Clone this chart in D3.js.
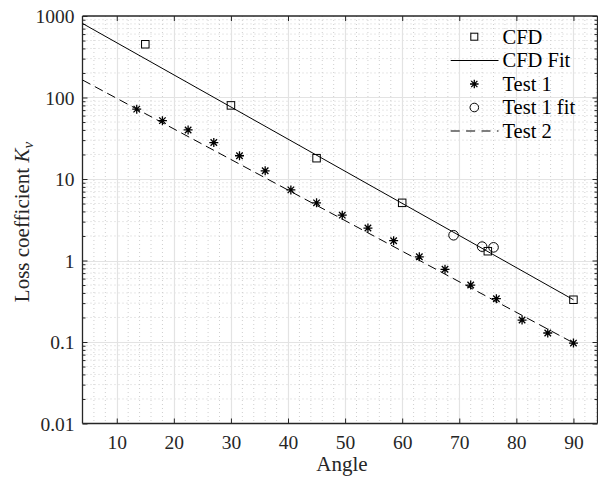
<!DOCTYPE html>
<html>
<head>
<meta charset="utf-8">
<script src="https://cdn.jsdelivr.net/npm/d3@7"></script>
<style>
  html, body { margin: 0; padding: 0; background: #fff; }
  svg { display: block; }
  text { font-family: "Liberation Serif", "DejaVu Serif", serif; }
</style>
</head>
<body>
<svg id="chart" width="598" height="480"></svg>
<script>
// ---- Data ----
const cfdAngle = [15, 30, 45, 60, 75, 90];
const cfdK = [450, 80, 18, 5.1, 1.3, 0.33];

const cfdFitAngle = [4, 90];
const cfdFitK = [810, 0.33];

const test1Angle = [13.5, 18, 22.5, 27, 31.5, 36, 40.5, 45, 49.5, 54, 58.5, 63, 67.5, 72, 76.5, 81, 85.5, 90];
const test1K = [72, 52, 40, 28, 19.3, 12.6, 7.35, 5.1, 3.6, 2.5, 1.75, 1.11, 0.78, 0.5, 0.34, 0.186, 0.129, 0.097];

const test1FitAngle = [69, 74, 76];
const test1FitK = [2.04, 1.48, 1.45];

const test2Angle = [4, 90];
const test2K = [164, 0.0975];

const xTicks = [10, 20, 30, 40, 50, 60, 70, 80, 90];
const yTicks = [0.01, 0.1, 1, 10, 100, 1000];
const yTickLabels = ["0.01", "0.1", "1", "10", "100", "1000"];
const legendLabels = ["CFD", "CFD Fit", "Test 1", "Test 1 fit", "Test 2"];

// ---- Layout ----
const L = 82.5, R = 597.5, T = 16, B = 423.5;
const svg = d3.select("#chart");
const x = d3.scaleLinear().domain([4, 94.3]).range([L, R + 0.5]);
const y = d3.scaleLog().domain([0.01, 1000]).range([B, T]);

const axisColor = "#262626";

// ---- Grid ----
const grid = svg.append("g");
// minor horizontal
const minorY = [];
for (let e = -2; e < 3; e++) for (let m = 2; m <= 9; m++) minorY.push(m * Math.pow(10, e));
grid.selectAll(".myg").data(minorY).join("line")
  .attr("x1", L).attr("x2", R).attr("y1", d => y(d)).attr("y2", d => y(d))
  .attr("stroke", "#cfcfcf").attr("stroke-width", 1).attr("stroke-dasharray", "1,3");
// minor vertical
const minorX = d3.range(4, 95, 2).filter(v => v % 10 !== 0);
grid.selectAll(".mxg").data(minorX).join("line")
  .attr("x1", d => x(d)).attr("x2", d => x(d)).attr("y1", T).attr("y2", B)
  .attr("stroke", "#cfcfcf").attr("stroke-width", 1).attr("stroke-dasharray", "1,3");
// major
grid.selectAll(".Myg").data(yTicks.slice(1, -1)).join("line")
  .attr("x1", L).attr("x2", R).attr("y1", d => Math.round(y(d)) + 0.5).attr("y2", d => Math.round(y(d)) + 0.5)
  .attr("stroke", "#e3e3e3").attr("stroke-width", 1.2);
grid.selectAll(".Mxg").data(xTicks).join("line")
  .attr("x1", d => Math.round(x(d)) + 0.5).attr("x2", d => Math.round(x(d)) + 0.5).attr("y1", T).attr("y2", B)
  .attr("stroke", "#e3e3e3").attr("stroke-width", 1.2);

// ---- Axes ----
const xAxisB = d3.axisBottom(x).tickValues(xTicks).tickSize(-5).tickPadding(12).tickFormat(d3.format("d"));
const gx = svg.append("g").attr("transform", `translate(0,${B})`).call(xAxisB);
gx.select(".domain").attr("d", `M${L},0H${R}`);
const xAxisT = d3.axisTop(x).tickValues(xTicks).tickSize(-5).tickFormat("");
const gxt = svg.append("g").attr("transform", `translate(0,${T})`).call(xAxisT);
gxt.select(".domain").attr("d", `M${L},0H${R}`);

const yAxisL = d3.axisLeft(y).tickValues(yTicks).tickSize(-5).tickPadding(8)
  .tickFormat((d, i) => yTickLabels[i]);
const gy = svg.append("g").attr("transform", `translate(${L},0)`).call(yAxisL);
gy.select(".domain").attr("d", `M0,${T}V${B}`);
const yAxisR = d3.axisRight(y).tickValues(yTicks).tickSize(-5).tickFormat("");
const gyr = svg.append("g").attr("transform", `translate(${R},0)`).call(yAxisR);
gyr.select(".domain").attr("d", `M0,${T}V${B}`);

// minor y ticks
const yMinorAxis = d3.axisLeft(y).tickValues(minorY).tickSize(-3).tickFormat("");
const gym = svg.append("g").attr("transform", `translate(${L},0)`).call(yMinorAxis);
gym.select(".domain").remove();
const yMinorAxisR = d3.axisRight(y).tickValues(minorY).tickSize(-3).tickFormat("");
const gymr = svg.append("g").attr("transform", `translate(${R},0)`).call(yMinorAxisR);
gymr.select(".domain").remove();

svg.selectAll(".domain").attr("stroke", axisColor).attr("stroke-width", 1.3);
svg.selectAll(".tick line").attr("stroke", axisColor).attr("stroke-width", 1);
svg.selectAll(".tick text").attr("fill", axisColor).attr("font-size", 19.5)
  .attr("font-family", "Liberation Serif, serif");
gy.selectAll(".tick text").attr("dy", "0.34em");

// ---- Labels ----
svg.append("text").attr("x", 342).attr("y", 471).attr("text-anchor", "middle")
  .attr("font-size", 21).attr("fill", axisColor).text("Angle");
const yl = svg.append("text").attr("transform", "translate(29,222) rotate(-90)")
  .attr("text-anchor", "middle").attr("font-size", 21).attr("fill", axisColor);
yl.append("tspan").text("Loss coefficient ");
yl.append("tspan").attr("font-style", "italic").text("K");
yl.append("tspan").attr("font-style", "italic").attr("font-size", 15).attr("dy", 4).text("v");

// ---- Series ----
const pts = (xs, ys) => xs.map((a, i) => [a, ys[i]]);
const line = d3.line().x(d => x(d[0])).y(d => y(d[1]));

svg.append("path").datum(pts(cfdFitAngle, cfdFitK)).attr("d", line)
  .attr("fill", "none").attr("stroke", "#000").attr("stroke-width", 1);
svg.append("path").datum(pts(test2Angle, test2K)).attr("d", line)
  .attr("fill", "none").attr("stroke", "#000").attr("stroke-width", 1).attr("stroke-dasharray", "9,5");

function square(g, cx, cy, s) {
  g.append("rect").attr("x", cx - s / 2).attr("y", cy - s / 2).attr("width", s).attr("height", s)
    .attr("fill", "none").attr("stroke", "#000").attr("stroke-width", 1);
}
function star(g, cx, cy, r) {
  const p = `M${cx - r},${cy}H${cx + r}M${cx},${cy - r}V${cy + r}` +
    `M${cx - r * 0.72},${cy - r * 0.72}L${cx + r * 0.72},${cy + r * 0.72}` +
    `M${cx - r * 0.72},${cy + r * 0.72}L${cx + r * 0.72},${cy - r * 0.72}`;
  g.append("path").attr("d", p).attr("stroke", "#000").attr("stroke-width", 1.3).attr("fill", "none");
}
function circle(g, cx, cy, r) {
  g.append("circle").attr("cx", cx).attr("cy", cy).attr("r", r)
    .attr("fill", "none").attr("stroke", "#000").attr("stroke-width", 1);
}

const marks = svg.append("g");
pts(cfdAngle, cfdK).forEach(d => square(marks, x(d[0]), y(d[1]), 7.5));
pts(test1Angle, test1K).forEach(d => star(marks, x(d[0]), y(d[1]), 4.5));
pts(test1FitAngle, test1FitK).forEach(d => circle(marks, x(d[0]), y(d[1]), 4.8));

// ---- Legend ----
const lg = svg.append("g");
const rowY = [36.7, 60.5, 84, 107.5, 131];
const mx = 474.3, tx = 502.5;
square(lg, mx, rowY[0], 7);
lg.append("line").attr("x1", 450.7).attr("x2", 498.5).attr("y1", rowY[1]).attr("y2", rowY[1])
  .attr("stroke", "#000").attr("stroke-width", 1);
star(lg, mx, rowY[2], 4.3);
circle(lg, mx, rowY[3], 4.3);
lg.append("line").attr("x1", 450.7).attr("x2", 498.5).attr("y1", rowY[4]).attr("y2", rowY[4])
  .attr("stroke", "#000").attr("stroke-width", 1).attr("stroke-dasharray", "9,6.4");
lg.selectAll(".lt").data(legendLabels).join("text")
  .attr("x", tx).attr("y", (d, i) => rowY[i]).attr("dy", "0.34em")
  .attr("font-size", 20.5).attr("fill", "#000").text(d => d);
</script>
</body>
</html>
